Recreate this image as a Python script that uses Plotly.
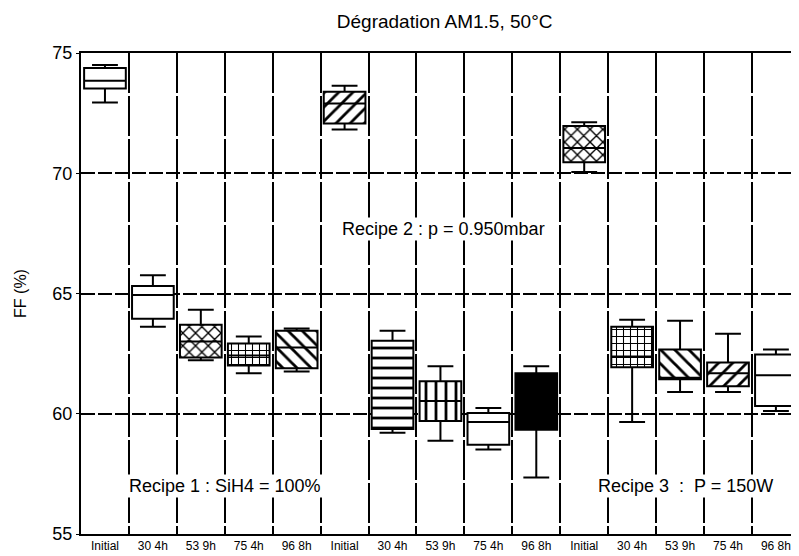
import plotly.graph_objects as go

# ---- data ----
tick_labels = ["Initial", "30 4h", "53 9h", "75 4h", "96 8h",
               "Initial", "30 4h", "53 9h", "75 4h", "96 8h",
               "Initial", "30 4h", "53 9h", "75 4h", "96 8h"]
positions = list(range(15))
upper = [74.50, 65.76, 64.32, 63.21, 63.54, 73.64, 63.45, 61.97, 60.24, 61.97, 72.12, 63.91, 63.87, 63.33, 62.67]
q3    = [74.38, 65.31, 63.70, 62.92, 63.45, 73.39, 63.04, 61.35, 60.03, 61.68, 71.96, 63.62, 62.67, 62.13, 62.46]
med   = [73.85, 64.94, 63.00, 62.42, 62.75, 72.90, 60.65, 60.53, 59.66, 60.50, 71.05, 62.38, 61.50, 61.68, 61.60]
q1    = [73.52, 63.95, 62.34, 62.01, 61.89, 72.07, 59.37, 59.70, 58.71, 59.33, 70.46, 61.93, 61.43, 61.14, 60.32]
lower = [72.94, 63.62, 62.22, 61.68, 61.76, 71.82, 59.21, 58.88, 58.51, 57.35, 70.05, 59.66, 60.90, 60.90, 60.11]
patterns = ["", "", "x", "+", "\\", "/", "-", "|", "", "solid", "x", "+", "\\", "/", ""]

fig = go.Figure()

BW = 0.87
for i in positions:
    p = patterns[i]
    if p == "solid":
        marker = dict(color="black", line=dict(width=0))
    elif p == "":
        marker = dict(color="white", line=dict(width=0))
    else:
        size = 9 if p == "x" else (7 if p == "+" else 10)
        marker = dict(color="white", line=dict(width=0),
                      pattern=dict(shape=p, fgcolor="black", bgcolor="white",
                                   size=size, solidity=0.28, fillmode="replace"))
    fig.add_trace(go.Bar(x=[positions[i]], y=[q3[i] - q1[i]], base=[q1[i]],
                         width=BW, marker=marker, showlegend=False,
                         hoverinfo="skip"))

fig.add_trace(go.Box(x=positions, q1=q1, median=med, q3=q3,
                     lowerfence=lower, upperfence=upper,
                     width=BW, whiskerwidth=0.62,
                     fillcolor="rgba(0,0,0,0)",
                     line=dict(color="black", width=2),
                     showlegend=False))

fig.add_annotation(x=2.5, y=57.0, text="Recipe 1 : SiH4 = 100%", showarrow=False,
                   bgcolor="white", font=dict(size=18, color="black"))
fig.add_annotation(x=7.07, y=67.68, text="Recipe 2 : p = 0.950mbar", showarrow=False,
                   bgcolor="white", font=dict(size=18, color="black"))
fig.add_annotation(x=12.11, y=57.0, text="Recipe 3  :  P = 150W", showarrow=False,
                   bgcolor="white", font=dict(size=18, color="black"))

fig.update_layout(
    width=791, height=548,
    margin=dict(l=73, r=0, t=45, b=22),
    paper_bgcolor="white", plot_bgcolor="white",
    barmode="overlay", bargap=0,
    font=dict(family="Liberation Sans, Arial, sans-serif", color="black"),
    title=dict(text="Dégradation AM1.5, 50°C", x=0.552, xanchor="center",
               y=0.975, yanchor="middle", font=dict(size=19, color="black")),
    showlegend=False,
)
fig.update_xaxes(
    range=[-0.5, 14.44], tickmode="array", tickvals=positions, ticktext=tick_labels,
    tickfont=dict(size=12, color="black",
                  family="Liberation Sans Narrow, Liberation Sans, Arial"),
    showgrid=False, zeroline=False,
    showline=True, linecolor="black", linewidth=2, mirror=True,
    ticks="", ticklen=0,
    minor=dict(tick0=0.5, dtick=1, showgrid=True, gridcolor="black",
               gridwidth=2, griddash="40px,3px", ticks=""),
)
fig.update_yaxes(
    range=[55, 75], tickvals=[55, 60, 65, 70, 75],
    tickfont=dict(size=18, color="black"),
    title=dict(text="FF (%)", font=dict(size=16, color="black"), standoff=22),
    showgrid=True, gridcolor="black", gridwidth=1.5, griddash="14px,3px",
    zeroline=False, showline=True, linecolor="black", linewidth=2, mirror=True,
    ticks="outside", ticklen=3, tickcolor="black",
)

fig.write_html("out.html")
